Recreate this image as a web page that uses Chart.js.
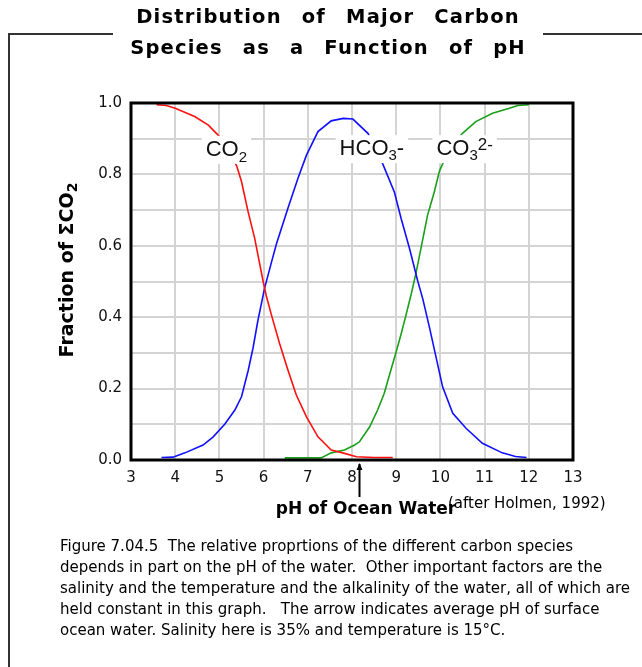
<!DOCTYPE html>
<html><head><meta charset="utf-8">
<script src="https://cdn.jsdelivr.net/npm/chart.js@4.4.0/dist/chart.umd.min.js"></script>
<style>
html,body{margin:0;padding:0;background:#fff;}
#wrap{position:relative;width:642px;height:667px;overflow:hidden;background:#fff;}
#c{position:absolute;left:0;top:0;}
#title{position:absolute;left:0;top:1px;width:656px;text-align:center;font:bold 19.5px "DejaVu Sans";line-height:31px;letter-spacing:1.2px;word-spacing:12px;color:#000;white-space:pre;}
#caption{position:absolute;left:60px;top:536px;font:15px "DejaVu Sans";line-height:21px;color:#000;white-space:pre;}
</style></head><body>
<div id="wrap">
<canvas id="c" width="642" height="667" style="width:642px;height:667px"></canvas>
<div id="title">Distribution of Major Carbon
Species as a Function of pH</div>
<div id="caption">Figure 7.04.5  The relative proprtions of the different carbon species
depends in part on the pH of the water.  Other important factors are the
salinity and the temperature and the alkalinity of the water, all of which are
held constant in this graph.   The arrow indicates average pH of surface
ocean water. Salinity here is 35% and temperature is 15°C.</div>
</div>
<script>
// ---- data ----
const co2PH   = [3.58, 3.8, 4.0, 4.44, 4.75, 4.97, 5.2, 5.39, 5.5, 5.65, 5.8, 5.99, 6.06, 6.18, 6.36, 6.55, 6.74, 6.97, 7.23, 7.53, 7.79, 8.1, 8.5, 8.92];
const co2Frac = [0.995, 0.993, 0.985, 0.962, 0.938, 0.91, 0.87, 0.824, 0.78, 0.695, 0.62, 0.50, 0.46, 0.405, 0.327, 0.252, 0.182, 0.121, 0.065, 0.028, 0.02, 0.009, 0.007, 0.007];

const hco3PH   = [3.69, 3.95, 4.22, 4.63, 4.86, 5.12, 5.35, 5.5, 5.65, 5.76, 5.87, 6.02, 6.18, 6.29, 6.55, 6.78, 6.97, 7.23, 7.53, 7.8, 8.02, 8.36, 8.55, 8.7, 8.96, 9.11, 9.3, 9.49, 9.6, 9.75, 9.9, 10.05, 10.28, 10.58, 10.95, 11.4, 11.7, 11.95];
const hco3Frac = [0.007, 0.008, 0.02, 0.042, 0.065, 0.10, 0.14, 0.177, 0.25, 0.313, 0.39, 0.48, 0.555, 0.605, 0.705, 0.79, 0.854, 0.92, 0.95, 0.957, 0.955, 0.915, 0.87, 0.828, 0.75, 0.677, 0.593, 0.50, 0.452, 0.373, 0.289, 0.205, 0.131, 0.089, 0.047, 0.02, 0.01, 0.007];

const co3PH   = [6.48, 7.3, 7.53, 7.83, 8.06, 8.17, 8.4, 8.58, 8.73, 8.88, 9.0, 9.11, 9.22, 9.34, 9.45, 9.56, 9.71, 9.86, 9.98, 10.2, 10.5, 10.8, 11.18, 11.56, 11.75, 12.0];
const co3Frac = [0.006, 0.006, 0.02, 0.028, 0.042, 0.051, 0.093, 0.14, 0.187, 0.252, 0.303, 0.352, 0.405, 0.465, 0.525, 0.593, 0.686, 0.75, 0.81, 0.87, 0.915, 0.948, 0.971, 0.985, 0.993, 0.995];

const xTickMin = 3, xTickMax = 13, xTickStep = 1;
const yTickMin = 0, yTickMax = 1, yTickStep = 0.1;
const oceanPH = 8.15;   // arrow: average surface ocean pH

const yTitle = 'Fraction of ΣCO';
const yTitleSub = '2';
const xTitle = 'pH of Ocean Water';
const credit = '(after Holmen, 1992)';

const speciesLabels = [
  {pH: 4.69, frac: 0.852, parts: [['CO', 22, 0], ['2', 15, 6]]},
  {pH: 7.72, frac: 0.854, parts: [['HCO', 22, 0], ['3', 15, 5], ['-', 22, 0]]},
  {pH: 9.91, frac: 0.854, parts: [['CO', 22, 0], ['3', 15, 5], ['2-', 17, -5]]}
];

const pts = (xs, ys) => xs.map((x, i) => ({x: x, y: ys[i]}));

const decor = {
  id: 'decor',
  beforeDraw(chart) {
    const ctx = chart.ctx;
    ctx.save();
    ctx.fillStyle = '#fff';
    ctx.fillRect(0, 0, chart.width, chart.height);
    ctx.fillStyle = '#333';
    ctx.fillRect(8, 33, 2, 640);
    ctx.fillRect(8, 33, 105, 2);
    ctx.fillRect(543, 33, 110, 2);
    ctx.restore();
  },
  afterDatasetsDraw(chart) {
    const ctx = chart.ctx;
    const xs = chart.scales.x, ys = chart.scales.y;
    const a = chart.chartArea;
    ctx.save();
    ctx.textBaseline = 'alphabetic';
    ctx.textAlign = 'left';
    speciesLabels.forEach(l => {
      const x0 = xs.getPixelForValue(l.pH);
      const by = ys.getPixelForValue(l.frac);
      let w = 0;
      l.parts.forEach(p => { ctx.font = p[1] + 'px "Liberation Sans", Arial'; w += ctx.measureText(p[0]).width; });
      ctx.fillStyle = '#fff';
      ctx.fillRect(x0 - 4, by - 20, w + 8, 28);
      ctx.fillStyle = '#111';
      let x = x0;
      l.parts.forEach(p => {
        ctx.font = p[1] + 'px "Liberation Sans", Arial';
        ctx.fillText(p[0], x, by + p[2]);
        x += ctx.measureText(p[0]).width;
      });
    });
    ctx.strokeStyle = '#000';
    ctx.lineWidth = 3;
    ctx.strokeRect(a.left, a.top, a.right - a.left, a.bottom - a.top);
    const ax = Math.round(xs.getPixelForValue(oceanPH)) + 0.5;
    ctx.lineWidth = 2;
    ctx.beginPath();
    ctx.moveTo(ax, a.bottom + 4);
    ctx.lineTo(ax, a.bottom + 37);
    ctx.stroke();
    ctx.fillStyle = '#000';
    ctx.beginPath();
    ctx.moveTo(ax, a.bottom + 3);
    ctx.lineTo(ax - 3, a.bottom + 10);
    ctx.lineTo(ax + 3, a.bottom + 10);
    ctx.closePath();
    ctx.fill();
    ctx.save();
    ctx.translate(68, 270);
    ctx.rotate(-Math.PI / 2);
    ctx.font = 'bold 19px "DejaVu Sans"';
    const w1 = ctx.measureText(yTitle).width;
    ctx.font = 'bold 14px "DejaVu Sans"';
    const w2 = ctx.measureText(yTitleSub).width;
    const sx = -(w1 + w2) / 2;
    ctx.textBaseline = 'middle';
    ctx.fillStyle = '#000';
    ctx.font = 'bold 19px "DejaVu Sans"';
    ctx.fillText(yTitle, sx, 0);
    ctx.font = 'bold 14px "DejaVu Sans"';
    ctx.fillText(yTitleSub, sx + w1, 5);
    ctx.restore();
    ctx.fillStyle = '#000';
    ctx.textBaseline = 'middle';
    ctx.textAlign = 'center';
    ctx.font = 'bold 17px "DejaVu Sans"';
    ctx.fillText(xTitle, 366, 510);
    ctx.textAlign = 'left';
    ctx.font = '15px "DejaVu Sans"';
    ctx.fillText(credit, 448, 504);
    ctx.restore();
  }
};

new Chart(document.getElementById('c'), {
  type: 'scatter',
  data: {
    datasets: [
      {label: 'CO2', data: pts(co2PH, co2Frac), borderColor: '#ff1010', showLine: true, pointRadius: 0, borderWidth: 1.6, tension: 0},
      {label: 'HCO3-', data: pts(hco3PH, hco3Frac), borderColor: '#1010ff', showLine: true, pointRadius: 0, borderWidth: 1.6, tension: 0},
      {label: 'CO3 2-', data: pts(co3PH, co3Frac), borderColor: '#1a9f1a', showLine: true, pointRadius: 0, borderWidth: 1.6, tension: 0}
    ]
  },
  options: {
    responsive: false,
    maintainAspectRatio: false,
    devicePixelRatio: 1,
    animation: false,
    layout: {padding: {left: 0, top: 103, right: 69, bottom: 177}},
    plugins: {legend: {display: false}, tooltip: {enabled: false}, title: {display: false}},
    scales: {
      x: {
        type: 'linear', min: xTickMin, max: xTickMax,
        afterFit: s => { s.height = 30; },
        grid: {color: '#d4d4d4', lineWidth: 2, drawTicks: false},
        border: {display: false},
        ticks: {stepSize: xTickStep, padding: 9, color: '#111', autoSkip: false, maxRotation: 0,
          font: {family: 'DejaVu Sans', size: 15}, callback: v => String(v)}
      },
      y: {
        type: 'linear', min: yTickMin, max: yTickMax,
        afterFit: s => { s.width = 131; },
        grid: {color: '#d4d4d4', lineWidth: 2, drawTicks: false},
        border: {display: false},
        ticks: {stepSize: yTickStep, padding: 9, color: '#111', autoSkip: false,
          font: {family: 'DejaVu Sans', size: 15},
          callback: v => (Math.round(v * 10) % 2 === 0 ? v.toFixed(1) : '')}
      }
    }
  },
  plugins: [decor]
});
</script>
</body></html>
